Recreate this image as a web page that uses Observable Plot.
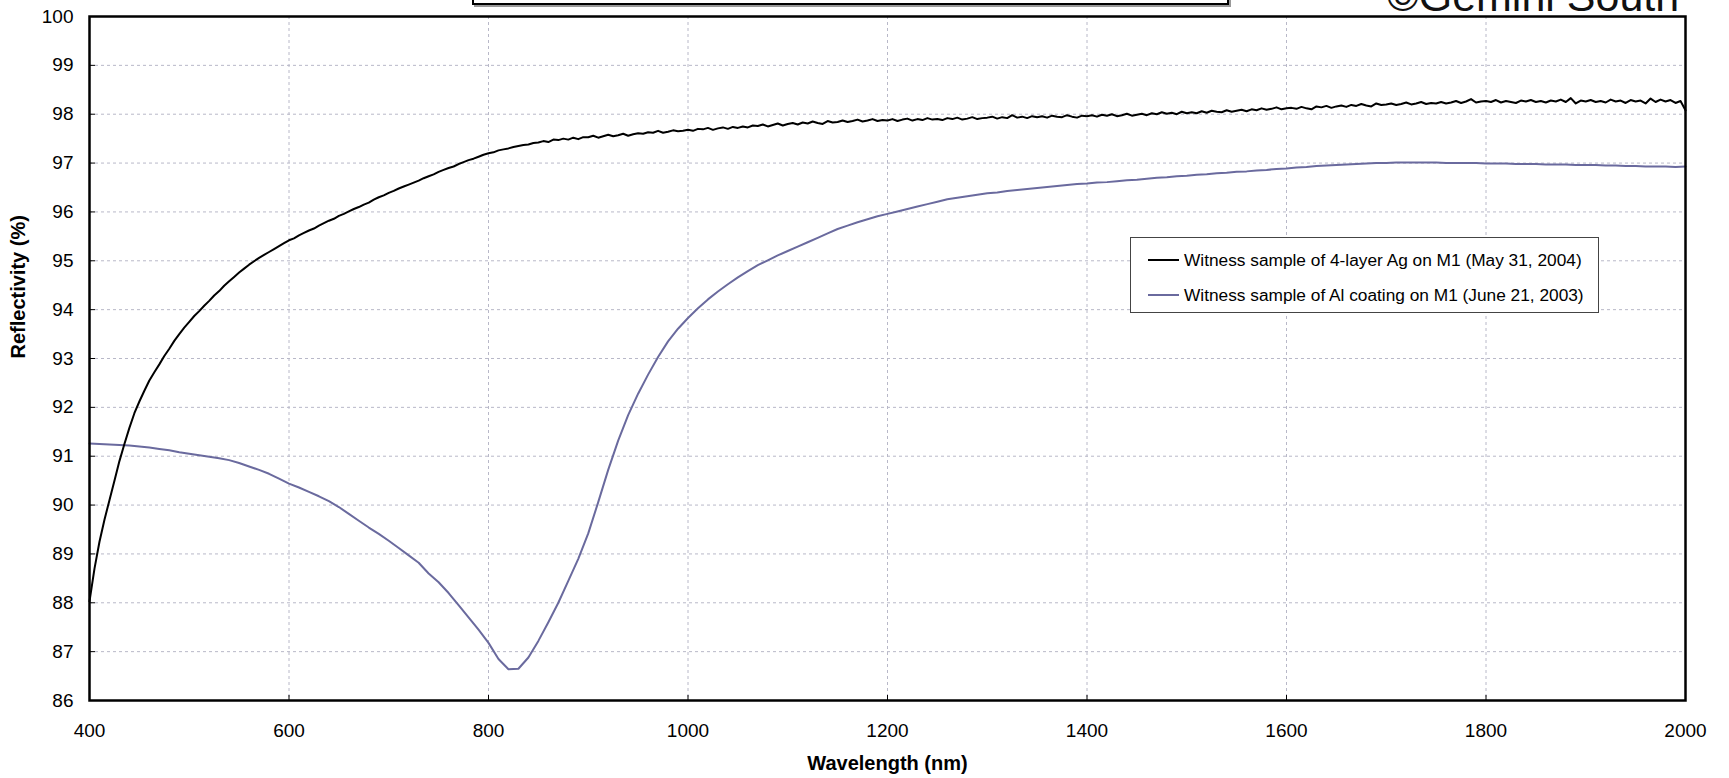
<!DOCTYPE html>
<html><head><meta charset="utf-8">
<script src="https://cdn.jsdelivr.net/npm/d3@7"></script>
<script src="https://cdn.jsdelivr.net/npm/@observablehq/plot@0.6"></script>
<style>
html,body{margin:0;padding:0;background:#fff;overflow:hidden;}
#wrap{position:relative;width:1729px;height:778px;font-family:"Liberation Sans",Arial,sans-serif;overflow:hidden;}
#legend{position:absolute;left:1130px;top:237px;width:469px;height:76px;box-sizing:border-box;border:1.5px solid #444;background:#fff;font-size:17.3px;color:#000;}
#legend .row{position:absolute;left:17px;height:20px;display:flex;align-items:center;white-space:nowrap;}
#legend .sw{width:31px;height:2px;margin-right:5px;}
#topbox{position:absolute;left:472px;top:-40px;width:757px;height:45px;box-sizing:border-box;border:2px solid #000;box-shadow:2px 2px 0 #999;background:#fff;}
</style></head><body><div id="wrap"></div>
<script>
// ---- data ----
const xTicks = [400, 600, 800, 1000, 1200, 1400, 1600, 1800, 2000];
const yTicks = [86, 87, 88, 89, 90, 91, 92, 93, 94, 95, 96, 97, 98, 99, 100];
const seriesNames = [
  "Witness sample of 4-layer Ag on M1 (May 31, 2004)",
  "Witness sample of Al coating on M1 (June 21, 2003)"
];
const seriesColors = ["#000000", "#6a6a9e"];

// Ag reflectivity, 400..2000 nm every 5 nm
const agStart = 400, agStep = 5;
const agReflect = [
88.03,
88.70, 89.25, 89.70, 90.10, 90.50, 90.90, 91.25, 91.58, 91.88, 92.12,
92.34, 92.55, 92.72, 92.88, 93.05, 93.20, 93.36, 93.50, 93.63, 93.75,
93.87, 93.97, 94.08, 94.18, 94.29, 94.38, 94.49, 94.58, 94.67, 94.76,
94.84, 94.92, 94.99, 95.06, 95.12, 95.18, 95.24, 95.30, 95.36, 95.42,
95.46, 95.52, 95.57, 95.62, 95.66, 95.72, 95.77, 95.82, 95.86, 95.92,
95.96, 96.01, 96.06, 96.10, 96.15, 96.19, 96.25, 96.30, 96.34, 96.39,
96.43, 96.48, 96.52, 96.56, 96.60, 96.64, 96.69, 96.73, 96.77, 96.82,
96.86, 96.90, 96.93, 96.98, 97.02, 97.06, 97.09, 97.13, 97.17, 97.20,
97.22, 97.26, 97.28, 97.30, 97.33, 97.35, 97.37, 97.38, 97.41, 97.42,
97.45, 97.43, 97.48, 97.47, 97.50, 97.48, 97.52, 97.49, 97.53, 97.53,
97.56, 97.52, 97.55, 97.58, 97.55, 97.57, 97.60, 97.56, 97.59, 97.61,
97.60, 97.63, 97.62, 97.66, 97.62, 97.64, 97.67, 97.65, 97.66, 97.68,
97.66, 97.70, 97.69, 97.72, 97.68, 97.71, 97.73, 97.70, 97.74, 97.72,
97.75, 97.73, 97.77, 97.76, 97.79, 97.75, 97.78, 97.81, 97.77, 97.80,
97.82, 97.79, 97.83, 97.81, 97.85, 97.82, 97.80, 97.86, 97.83, 97.84,
97.87, 97.84, 97.86, 97.89, 97.85, 97.87, 97.90, 97.86, 97.88, 97.87,
97.90, 97.86, 97.89, 97.91, 97.87, 97.90, 97.88, 97.92, 97.89, 97.90,
97.88, 97.92, 97.90, 97.93, 97.89, 97.91, 97.94, 97.90, 97.92, 97.93,
97.95, 97.91, 97.94, 97.92, 97.98, 97.93, 97.95, 97.92, 97.96, 97.94,
97.96, 97.93, 97.97, 97.95, 97.94, 97.98, 97.95, 97.93, 97.97, 97.96,
97.98, 97.95, 97.99, 97.97, 98.00, 97.96, 97.98, 98.01, 97.97, 97.99,
98.01, 97.98, 98.02, 98.00, 98.04, 98.01, 98.03, 98.00, 98.05, 98.02,
98.04, 98.02, 98.06, 98.03, 98.07, 98.05, 98.04, 98.08, 98.05, 98.07,
98.09, 98.06, 98.10, 98.08, 98.12, 98.09, 98.11, 98.14, 98.10, 98.12,
98.13, 98.11, 98.15, 98.12, 98.10, 98.16, 98.14, 98.17, 98.13, 98.16,
98.18, 98.15, 98.19, 98.17, 98.21, 98.18, 98.16, 98.22, 98.19, 98.20,
98.22, 98.19, 98.21, 98.24, 98.20, 98.22, 98.25, 98.21, 98.23, 98.22,
98.25, 98.22, 98.24, 98.27, 98.23, 98.26, 98.31, 98.24, 98.26, 98.27,
98.25, 98.29, 98.24, 98.27, 98.25, 98.23, 98.28, 98.26, 98.29, 98.25,
98.27, 98.24, 98.28, 98.26, 98.30, 98.25, 98.33, 98.22, 98.28, 98.26,
98.29, 98.25, 98.27, 98.24, 98.30, 98.26, 98.28, 98.23, 98.29, 98.26,
98.28, 98.22, 98.32, 98.25, 98.30, 98.26, 98.29, 98.23, 98.27, 98.08
];

// Al reflectivity, 400..2000 nm every 10 nm
const alStart = 400, alStep = 10;
const alReflect = [
91.26, 91.25, 91.24, 91.23, 91.22, 91.20, 91.18, 91.15, 91.12, 91.08,
91.05, 91.02, 90.99, 90.96, 90.92, 90.86, 90.79, 90.72, 90.64, 90.54,
90.44, 90.36, 90.27, 90.18, 90.08, 89.96, 89.82, 89.68, 89.54, 89.41,
89.27, 89.12, 88.97, 88.82, 88.60, 88.42, 88.20, 87.95, 87.70, 87.45,
87.18, 86.85, 86.64, 86.65, 86.88, 87.22, 87.60, 88.00, 88.45, 88.90,
89.42, 90.06, 90.72, 91.32, 91.84, 92.28, 92.67, 93.03, 93.35, 93.61,
93.83, 94.03, 94.21, 94.37, 94.52, 94.66, 94.79, 94.91, 95.01, 95.11,
95.20, 95.29, 95.38, 95.47, 95.56, 95.65, 95.72, 95.79, 95.85, 95.91,
95.96, 96.01, 96.06, 96.11, 96.16, 96.21, 96.26, 96.29, 96.32, 96.35,
96.38, 96.40, 96.43, 96.45, 96.47, 96.49, 96.51, 96.53, 96.55, 96.57,
96.58, 96.60, 96.61, 96.63, 96.65, 96.66, 96.68, 96.70, 96.71, 96.73,
96.74, 96.76, 96.77, 96.79, 96.80, 96.82, 96.83, 96.85, 96.86, 96.88,
96.89, 96.91, 96.92, 96.94, 96.95, 96.96, 96.97, 96.98, 96.99, 97.00,
97.00, 97.01, 97.01, 97.01, 97.01, 97.01, 97.00, 97.00, 97.00, 97.00,
96.99, 96.99, 96.99, 96.98, 96.98, 96.98, 96.97, 96.97, 96.97, 96.96,
96.96, 96.96, 96.95, 96.95, 96.94, 96.94, 96.93, 96.93, 96.93, 96.92,
96.93
];

// ---- build ----
const ag = agReflect.map((r, i) => ({wl: agStart + i * agStep, r}));
const al = alReflect.map((r, i) => ({wl: alStart + i * alStep, r}));
const font = "'Liberation Sans', Arial, sans-serif";
const plain = d => String(d);

const chart = Plot.plot({
  width: 1729,
  height: 778,
  marginLeft: 89,
  marginRight: 44,
  marginTop: 16,
  marginBottom: 78,
  style: {fontFamily: font, background: "#fff", color: "#000"},
  x: {domain: [400, 2000]},
  y: {domain: [86, 100]},
  marks: [
    Plot.gridX(xTicks.slice(1, -1), {stroke: "#b8b8c8", strokeOpacity: 1, strokeDasharray: "3,3"}),
    Plot.gridY(yTicks.slice(1, -1), {stroke: "#b8b8c8", strokeOpacity: 1, strokeDasharray: "3,3"}),
    Plot.axisY(yTicks, {anchor: "left", tickSize: 0, tickPadding: 16, fontSize: 19, label: null, tickFormat: plain}),
    Plot.axisY(yTicks, {anchor: "left", tickSize: 6, dx: 6, text: null, label: null, stroke: "#000"}),
    Plot.axisX(xTicks, {anchor: "bottom", tickSize: 0, tickPadding: 23, fontSize: 19, label: null, tickFormat: plain}),
    Plot.axisX(xTicks, {anchor: "bottom", tickSize: 5, dy: -5, text: null, label: null, stroke: "#000"}),
    Plot.line(al, {x: "wl", y: "r", stroke: seriesColors[1], strokeWidth: 2}),
    Plot.line(ag, {x: "wl", y: "r", stroke: seriesColors[0], strokeWidth: 2}),
    Plot.frame({stroke: "#000", strokeWidth: 2.5}),
    Plot.text(["Wavelength (nm)"], {frameAnchor: "bottom", dy: 63, fontSize: 20, fontWeight: "bold", lineAnchor: "middle"}),
    Plot.text(["Reflectivity (%)"], {frameAnchor: "left", dx: -71, rotate: -90, fontSize: 20, fontWeight: "bold", lineAnchor: "middle"})
  ]
});

const wrap = document.getElementById("wrap");
wrap.appendChild(chart);

// top remnants of the slide (clipped title box and credit)
const topbox = document.createElement("div");
topbox.id = "topbox";
wrap.appendChild(topbox);
const credit = document.createElementNS("http://www.w3.org/2000/svg", "svg");
credit.setAttribute("width", 1729);
credit.setAttribute("height", 20);
credit.style.position = "absolute";
credit.style.left = "0px";
credit.style.top = "0px";
credit.innerHTML = `<text x="1387" y="11" font-size="43" font-family="Liberation Sans, Arial, sans-serif" fill="#111">©Gemini South</text>`;
wrap.appendChild(credit);

// legend
const legend = document.createElement("div");
legend.id = "legend";
seriesNames.forEach((name, i) => {
  const row = document.createElement("div");
  row.className = "row";
  row.style.top = (i === 0 ? 12 : 47) + "px";
  const sw = document.createElement("span");
  sw.className = "sw";
  sw.style.background = seriesColors[i];
  const t = document.createElement("span");
  t.textContent = name;
  row.appendChild(sw);
  row.appendChild(t);
  legend.appendChild(row);
});
wrap.appendChild(legend);
</script>
</body></html>
